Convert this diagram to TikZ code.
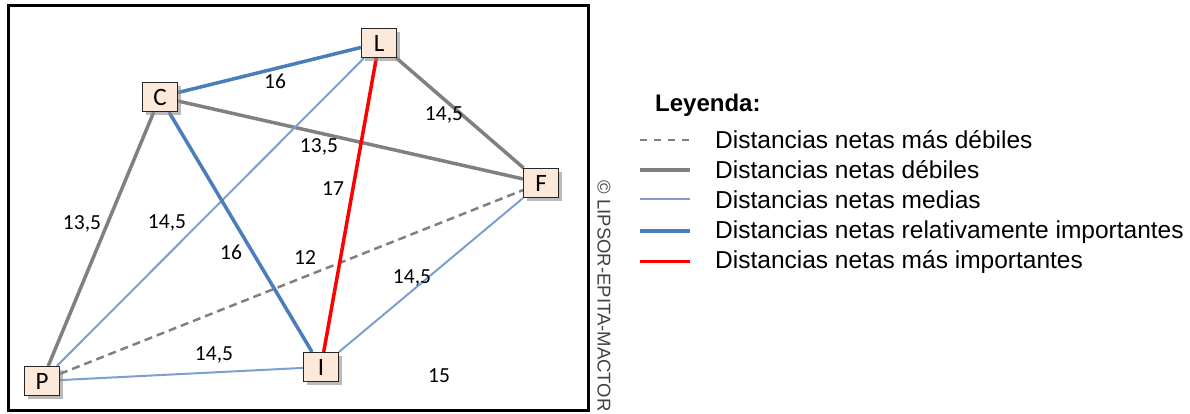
\documentclass[tikz,border=0pt]{standalone}
\usepackage{fontspec}
\setmainfont{Liberation Sans}
\newfontfamily\calib{Carlito}
\usetikzlibrary{shadows,backgrounds}
\definecolor{peach}{HTML}{FDE9D9}
\definecolor{bluestrong}{HTML}{4A7EBB}
\definecolor{bluelight}{HTML}{7BA0D0}
\definecolor{grayline}{HTML}{808080}
\definecolor{redline}{HTML}{FF0000}
\definecolor{copyc}{HTML}{404040}
\tikzset{
  actor/.style={draw=black!85, line width=1.1pt, fill=peach, minimum width=35pt, minimum height=29pt,
    inner sep=0pt, font=\calib\fontsize{25}{26}\selectfont,
    drop shadow={shadow xshift=3pt, shadow yshift=-3pt, fill=black!45, opacity=0.6}},
  lbl/.style={font=\calib\fontsize{21.5}{24}\selectfont, inner sep=0pt},
  weakest/.style={grayline, line width=2.5pt, dash pattern=on 8pt off 5pt},
  weak/.style={grayline, line width=3.5pt},
  medium/.style={bluelight, line width=2pt},
  relimp/.style={bluestrong, line width=3.5pt},
  mostimp/.style={redline, line width=3.5pt},
  legtext/.style={font=\fontsize{24.5}{28}\selectfont, anchor=base west, inner sep=0pt},
}
\begin{document}
\begin{tikzpicture}[x=1pt,y=-1pt]
\useasboundingbox (0,0) rectangle (1190,413);
\draw[line width=3pt, black] (8,5) rectangle (588,410);

\node[actor] (L) at (379,43) {L};
\node[actor] (C) at (160,97) {C};
\node[actor] (F) at (541,183) {F};
\node[actor] (P) at (42,381) {P};
\node[actor] (I) at (321,367) {I};

\begin{pgfonlayer}{background}
\draw[weak] (C) -- (F);
\draw[weak] (L) -- (F);
\draw[weak] (C) -- (P);
\draw[weakest] (P) -- (F);
\draw[medium] (P) -- (L);
\draw[medium] (P) -- (I);
\draw[medium] (I) -- (F);
\draw[relimp] (C) -- (L);
\draw[relimp] (C) -- (I);
\draw[mostimp] (L) -- (I);
\end{pgfonlayer}

\node[lbl] (t1) at (275,81) {16};
\node[lbl] (t2) at (444,115) {14,5};
\node[lbl] (t3) at (319,147) {13,5};
\node[lbl] (t4) at (333,189) {17};
\node[lbl] (t5) at (82,224) {13,5};
\node[lbl] (t6) at (167,223) {14,5};
\node[lbl] (t7) at (231,252) {16};
\node[lbl] (t8) at (305,258) {12};
\node[lbl] (t9) at (412,278) {14,5};
\node[lbl] (t10) at (214,355) {14,5};
\node[lbl] (t11) at (439,376) {15};

\node[font=\fontsize{18.5}{20}\selectfont, text=copyc, rotate=-90, inner sep=0pt] (cp) at (604,296) {© LIPSOR-EPITA-MACTOR};

\node[font=\bfseries\fontsize{24}{28}\selectfont, anchor=base west, inner sep=0pt] (ley) at (655,111) {Leyenda:};
\coordinate (a1) at (640,140); \coordinate (b1) at (690,140);
\coordinate (a2) at (640,170); \coordinate (b2) at (690,170);
\coordinate (a3) at (640,199); \coordinate (b3) at (690,199);
\coordinate (a4) at (640,231); \coordinate (b4) at (690,231);
\coordinate (a5) at (640,261); \coordinate (b5) at (690,261);
\draw[grayline, line width=2pt, dash pattern=on 7pt off 7pt] (a1) -- (b1);
\draw[grayline, line width=3.5pt] (a2) -- (b2);
\draw[bluelight, line width=2pt] (a3) -- (b3);
\draw[bluestrong, line width=3.5pt] (a4) -- (b4);
\draw[redline, line width=3pt] (a5) -- (b5);
\node[legtext] (l1) at (715,148) {Distancias netas más débiles};
\node[legtext] (l2) at (715,178) {Distancias netas débiles};
\node[legtext] (l3) at (715,208) {Distancias netas medias};
\node[legtext] (l4) at (715,238) {Distancias netas relativamente importantes};
\node[legtext] (l5) at (715,268) {Distancias netas más importantes};
\end{tikzpicture}
\end{document}
